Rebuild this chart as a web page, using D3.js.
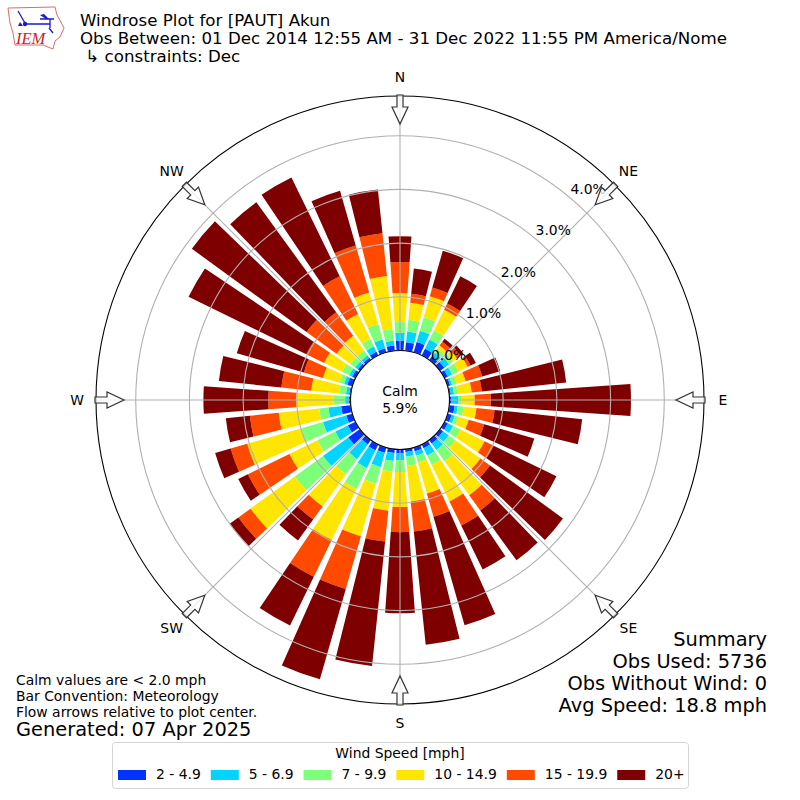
<!DOCTYPE html>
<html>
<head>
<meta charset="utf-8">
<script src="https://cdn.jsdelivr.net/npm/d3@7"></script>
<style>
  html, body { margin: 0; padding: 0; background: #fff; }
  svg { display: block; }
  text { font-family: "DejaVu Sans", sans-serif; fill: #000; }
</style>
</head>
<body>
<div id="chart"></div>
<script>
// wind directions, degrees clockwise from north
const directions = d3.range(0, 360, 10);

// percent of observations per direction, one list per speed bin
const speed2to5 = [.18,.16,.20,.14,.08,.10,.07,.05,.03,.03,.10,.08,.07,.07,.08,.08,.07,.05,.07,.07,.10,.12,.10,.27,.16,.12,.18,.03,.03,.10,.07,.05,.05,.08,.08,.10];
const speed5to7 = [.15,.20,.22,.19,.09,.11,.09,.04,.06,.13,.06,.06,.11,.13,.15,.15,.09,.09,.13,.15,.28,.37,.34,.58,.26,.45,.24,.07,.06,.06,.06,.06,.06,.11,.17,.09];
const speed7to10 = [.20,.22,.26,.19,.09,.09,.13,.09,.07,.07,.11,.07,.15,.15,.26,.19,.13,.17,.22,.20,.32,.43,.35,.65,.37,.43,.17,.22,.13,.09,.15,.11,.11,.15,.30,.22];
const speed10to15 = [.54,.32,.41,.43,.07,.09,.19,.17,.26,.24,.24,.20,.50,.58,.78,.76,.60,.67,.65,.73,1.02,1.06,.74,1.02,.58,1.04,.76,.69,.52,.32,.37,.32,.34,.52,.61,.99];
const speed15to20 = [.58,.17,.17,.13,.09,.09,.06,.32,.19,.30,.34,.30,.19,.22,.35,.50,.45,.56,.47,.58,1.02,.76,.30,.28,.86,.32,.54,.52,.56,.37,.37,.69,.54,.78,.91,.80];
const speed20up = [.48,.47,.71,.56,.07,.06,.11,.35,1.58,2.61,1.64,.97,1.30,1.68,1.15,.91,2.10,2.12,1.51,2.33,1.75,1.01,.48,.20,.20,.30,.45,1.21,1.17,1.30,2.44,2.64,2.53,2.05,1.06,.82];

const speedSeries = [speed2to5, speed5to7, speed7to10, speed10to15, speed15to20, speed20up];
const speedLabels = ["2 - 4.9", "5 - 6.9", "7 - 9.9", "10 - 14.9", "15 - 19.9", "20+"];
const speedColors = ["#0033ff", "#00d4ff", "#7dff7a", "#ffe600", "#ff4a00", "#7f0000"];

const radialTicks = [0, 1, 2, 3, 4];
const compassLabels = ["N", "NE", "E", "SE", "S", "SW", "W", "NW"];
const compassAngles = d3.range(0, 360, 45);

const titleLines = [
    "Windrose Plot for [PAUT] Akun",
    "Obs Between: 01 Dec 2014 12:55 AM - 31 Dec 2022 11:55 PM America/Nome",
    " \u21b3 constraints: Dec"
];
const summaryLines = ["Summary", "Obs Used: 5736", "Obs Without Wind: 0", "Avg Speed: 18.8 mph"];
const noteLines = ["Calm values are < 2.0 mph", "Bar Convention: Meteorology", "Flow arrows relative to plot center."];

const width = 800, height = 800;
const cx = 400, cy = 400;
const holeRadius = 49.5, outerRadius = 304;
const barWidth = 8;
const labelAngle = 40;

const svg = d3.select("#chart").append("svg")
    .attr("width", width)
    .attr("height", height)
    .attr("viewBox", [0, 0, width, height]);

const r = d3.scaleLinear()
    .domain([0, 4.74])
    .range([holeRadius, outerRadius]);

const angle = d3.scaleLinear()
    .domain([0, 360])
    .range([0, 2 * Math.PI]);

const stacked = d3.stack()
    .keys(d3.range(speedSeries.length))
    .value((i, key) => speedSeries[key][i])(directions.map((d, i) => i));

const plot = svg.append("g").attr("transform", `translate(${cx},${cy})`);

// bars
const arc = d3.arc();
plot.append("g")
    .selectAll("g")
    .data(stacked)
    .join("g")
    .attr("fill", (d, i) => speedColors[i])
    .selectAll("path")
    .data(d => d)
    .join("path")
    .attr("d", (d, i) => arc({
        innerRadius: r(d[0]),
        outerRadius: r(d[1]),
        startAngle: angle(directions[i] - barWidth / 2),
        endAngle: angle(directions[i] + barWidth / 2)
    }));

// grid sits on top of the bars
const grid = plot.append("g")
    .attr("fill", "none")
    .attr("stroke", "#b0b0b0")
    .attr("stroke-width", 1.1);

grid.selectAll("circle")
    .data(radialTicks)
    .join("circle")
    .attr("r", d => r(d));

grid.selectAll("line")
    .data(compassAngles)
    .join("line")
    .attr("x1", d => holeRadius * Math.sin(angle(d)))
    .attr("y1", d => -holeRadius * Math.cos(angle(d)))
    .attr("x2", d => outerRadius * Math.sin(angle(d)))
    .attr("y2", d => -outerRadius * Math.cos(angle(d)));

// calm hole and outer frame
plot.append("circle")
    .attr("r", holeRadius)
    .attr("fill", "#fff")
    .attr("stroke", "#000")
    .attr("stroke-width", 1.1);

plot.append("circle")
    .attr("r", outerRadius)
    .attr("fill", "none")
    .attr("stroke", "#000")
    .attr("stroke-width", 1.1);

plot.append("text")
    .attr("text-anchor", "middle")
    .attr("font-size", 13.9)
    .selectAll("tspan")
    .data(["Calm", "5.9%"])
    .join("tspan")
    .attr("x", 0)
    .attr("y", (d, i) => -4 + i * 16.5)
    .text(d => d);

// radial labels, a little off the 40 degree line
plot.append("g")
    .selectAll("text")
    .data(radialTicks)
    .join("text")
    .attr("x", d => r(d) * 1.01 * Math.sin(angle(labelAngle)) + 16.5)
    .attr("y", d => -r(d) * 1.01 * Math.cos(angle(labelAngle)) - 2)
    .attr("text-anchor", "middle")
    .attr("font-size", 13.9)
    .text(d => d3.format(".1f")(d) + "%");

// flow arrows, drawn pointing at the centre from the top of the frame
const arrowShape = d3.line()([
    [-3, -305], [3, -305], [3, -293], [8, -293], [0, -276], [-8, -293], [-3, -293]
]) + "Z";

plot.append("g")
    .selectAll("path")
    .data(compassAngles)
    .join("path")
    .attr("d", arrowShape)
    .attr("transform", d => `rotate(${d})`)
    .attr("fill", "#fff")
    .attr("fill-opacity", 0.75)
    .attr("stroke", "#333")
    .attr("stroke-width", 1.2);

plot.append("g")
    .selectAll("text")
    .data(compassAngles)
    .join("text")
    .attr("x", d => 323 * Math.sin(angle(d)))
    .attr("y", d => -323 * Math.cos(angle(d)) + 4.5)
    .attr("text-anchor", "middle")
    .attr("font-size", 13.9)
    .text((d, i) => compassLabels[i]);

// header
svg.append("g")
    .selectAll("text")
    .data(titleLines)
    .join("text")
    .attr("x", 80)
    .attr("y", (d, i) => 26 + i * 18)
    .attr("font-size", 16.67)
    .attr("xml:space", "preserve")
    .style("white-space", "pre")
    .text(d => d);

// summary, lower right
svg.append("g")
    .selectAll("text")
    .data(summaryLines)
    .join("text")
    .attr("x", 767)
    .attr("y", (d, i) => 646 + i * 22)
    .attr("text-anchor", "end")
    .attr("font-size", 19.4)
    .text(d => d);

// notes, lower left
svg.append("g")
    .selectAll("text")
    .data(noteLines)
    .join("text")
    .attr("x", 16)
    .attr("y", (d, i) => 685 + i * 16)
    .attr("font-size", 13.9)
    .text(d => d);

svg.append("text")
    .attr("x", 16)
    .attr("y", 736)
    .attr("font-size", 19.4)
    .text("Generated: 07 Apr 2025");

// legend
const legend = svg.append("g");
legend.append("rect")
    .attr("x", 112.5)
    .attr("y", 742.5)
    .attr("width", 576)
    .attr("height", 46)
    .attr("rx", 3)
    .attr("fill", "#fff")
    .attr("stroke", "#d5d5d5");

legend.append("text")
    .attr("x", 400)
    .attr("y", 758)
    .attr("text-anchor", "middle")
    .attr("font-size", 13.9)
    .text("Wind Speed [mph]");

let legendX = 118;
speedLabels.forEach((label, i) => {
    legend.append("rect")
        .attr("x", legendX)
        .attr("y", 770)
        .attr("width", 28)
        .attr("height", 10)
        .attr("fill", speedColors[i]);
    const t = legend.append("text")
        .attr("x", legendX + 38)
        .attr("y", 779)
        .attr("font-size", 13.9)
        .text(label);
    legendX += 38 + t.node().getComputedTextLength() + 10;
});

// IEM logo
const logo = svg.append("g");
logo.append("path")
    .attr("d", d3.line()([[8, 8], [55, 7], [57, 15], [64, 28], [60, 37], [55, 41], [53, 49], [43, 45], [15, 45], [13, 33], [10, 23]]) + "Z")
    .attr("fill", "#fff")
    .attr("stroke", "#e06a6a")
    .attr("stroke-width", 1);

logo.append("path")
    .attr("d", "M25 24H50M40 19H54M50 19V28M18 11L25 23M49 28L53 33")
    .attr("fill", "none")
    .attr("stroke", "#1a1acc")
    .attr("stroke-width", 1.3);

logo.append("path")
    .attr("d", "M40 15L44 14L49 19L46 19ZM20 22L23 26H18Z")
    .attr("fill", "#1a1acc");

logo.append("circle")
    .attr("cx", 25)
    .attr("cy", 24)
    .attr("r", 2.2)
    .attr("fill", "#1a1acc");

logo.append("text")
    .attr("x", 16)
    .attr("y", 44)
    .attr("font-size", 16.5)
    .attr("font-style", "italic")
    .style("font-family", "'Liberation Serif', serif")
    .style("fill", "#cc2222")
    .text("IEM");
</script>
</body>
</html>
